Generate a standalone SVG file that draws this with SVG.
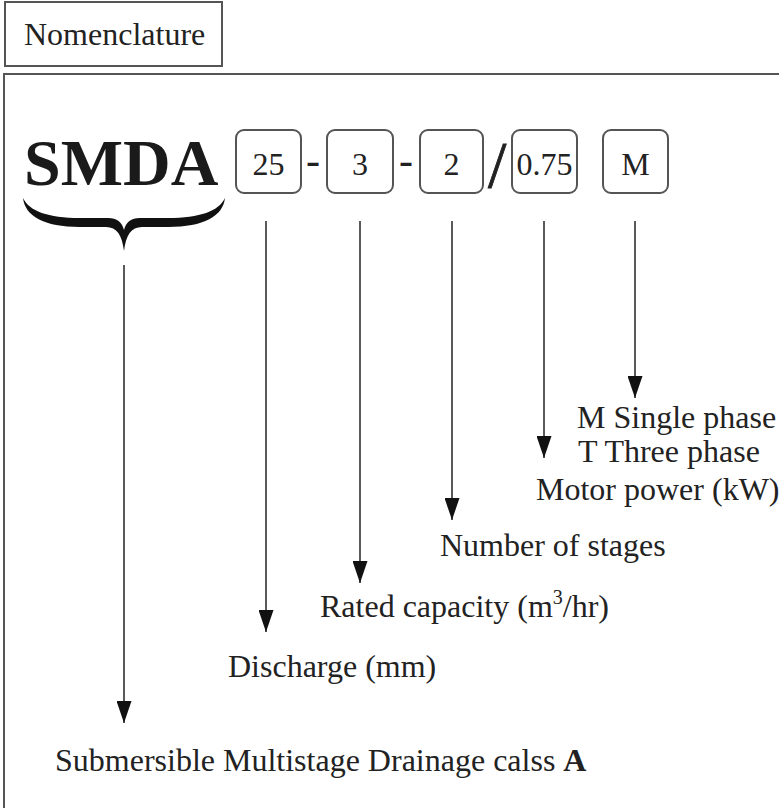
<svg xmlns="http://www.w3.org/2000/svg" width="779" height="808" viewBox="0 0 779 808">
<style>
  .t { font-family: "Liberation Serif", "Times New Roman", serif; font-size: 32px; fill: #222222; }
  .box { fill: #ffffff; stroke: #555555; stroke-width: 2; }
  .frame { fill: none; stroke: #555555; stroke-width: 2; }
  .con { stroke: #5a5a5a; stroke-width: 2; fill: none; marker-end: url(#ah); }
</style>
<defs>
  <marker id="ah" viewBox="0 0 22 15" refX="22" refY="7.5" markerWidth="22" markerHeight="15" markerUnits="userSpaceOnUse" orient="auto">
    <path d="M0,0 L22,7.5 L0,15 Z" fill="#111111"/>
  </marker>
</defs>
<rect width="779" height="808" fill="#ffffff"/>

<g id="title">
  <rect class="frame" x="5" y="2" width="217" height="64"/>
  <text class="t" x="24" y="45">Nomenclature</text>
</g>
<rect id="frame" class="frame" x="4" y="74" width="820" height="800"/>

<g id="code">
  <text id="smda" x="24" y="185" style="font-family:'Liberation Serif','Times New Roman',serif;font-weight:bold;font-size:66px;fill:#1a1a1a">SMDA</text>
  <path id="brace" fill="#111111" d="M23,198 C25,216 44,227 80,227 L106,227 C117,227 122,235 124,251 C126,235 131,227 142,227 L168,227 C204,227 223,216 225,198 C219,211 200,218 168,218 L140,218 C131,218 126,222 124,230 C122,222 117,218 108,218 L80,218 C48,218 29,211 23,198 Z"/>
  <g id="n25"><rect class="box" x="236" y="130" width="65" height="63" rx="8"/><text class="t" x="268.5" y="175" text-anchor="middle">25</text></g>
  <text class="t" x="306" y="174" style="font-size:42px">-</text>
  <g id="n3"><rect class="box" x="327" y="130" width="66" height="63" rx="8"/><text class="t" x="360" y="175" text-anchor="middle">3</text></g>
  <text class="t" x="399" y="174" style="font-size:42px">-</text>
  <g id="n2"><rect class="box" x="420" y="130" width="63" height="63" rx="8"/><text class="t" x="451.5" y="175" text-anchor="middle">2</text></g>
  <text class="t" x="488" y="187" style="font-size:66px;stroke:#222222;stroke-width:0.8">/</text>
  <g id="n075"><rect class="box" x="512" y="130" width="65" height="63" rx="8"/><text class="t" x="544.5" y="175" text-anchor="middle">0.75</text></g>
  <g id="nM"><rect class="box" x="603" y="130" width="65" height="63" rx="8"/><text class="t" x="635.5" y="175" text-anchor="middle">M</text></g>
</g>

<g id="connectors">
  <line class="con" x1="124" y1="265" x2="124" y2="723"/>
  <line class="con" x1="266" y1="221" x2="266" y2="632"/>
  <line class="con" x1="360" y1="221" x2="360" y2="583"/>
  <line class="con" x1="452" y1="221" x2="452" y2="520"/>
  <line class="con" x1="544" y1="221" x2="544" y2="458"/>
  <line class="con" x1="635" y1="221" x2="635" y2="398"/>
</g>

<g id="labels">
  <text class="t" x="577" y="428">M Single phase</text>
  <text class="t" x="578" y="462">T Three phase</text>
  <text class="t" x="536" y="500">Motor power (kW)</text>
  <text class="t" x="440" y="556">Number of stages</text>
  <text class="t" x="320" y="617">Rated capacity (m<tspan dy="-13" style="font-size:20px">3</tspan><tspan dy="13">/hr)</tspan></text>
  <text class="t" x="228" y="677">Discharge (mm)</text>
  <text class="t" x="55" y="771">Submersible Multistage Drainage calss <tspan font-weight="bold">A</tspan></text>
</g>
</svg>
